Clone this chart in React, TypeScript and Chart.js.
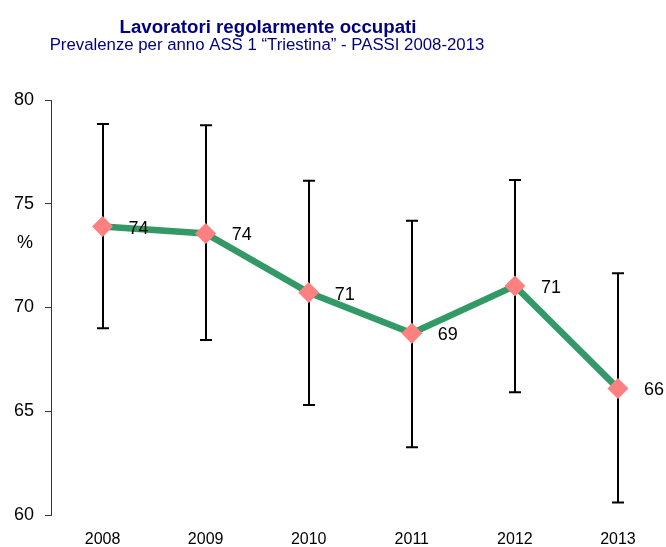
import React, { useEffect, useRef } from "react";
import { Chart, registerables } from "chart.js";

Chart.register(...registerables);

const years = ["2008", "2009", "2010", "2011", "2012", "2013"];
const prevalence = [73.9, 73.57, 70.72, 68.76, 71.04, 66.1];
const lowerCI = [69.0, 68.43, 65.3, 63.26, 65.91, 60.6];
const upperCI = [78.84, 78.78, 76.11, 74.18, 76.14, 71.65];
const yMin = 60;
const yMax = 80;
const yStep = 5;
const titleText = "Lavoratori regolarmente occupati";
const subtitleText = "Prevalenze per anno ASS 1 \u201CTriestina\u201D - PASSI 2008-2013";
const yAxisLabel = "%";

const FONT = '"Liberation Sans", Arial, sans-serif';

export default function App() {
  const ref = useRef<HTMLCanvasElement | null>(null);

  useEffect(() => {
    if (!ref.current) return;

    const errorBars = {
      id: "errorBars",
      beforeDatasetsDraw(chart: any) {
        const { ctx, scales } = chart;
        const x = scales.x;
        const y = scales.y;
        ctx.save();
        ctx.strokeStyle = "#000000";
        ctx.lineWidth = 2;
        for (let i = 0; i < years.length; i++) {
          const px = Math.round(x.getPixelForValue(i));
          const top = y.getPixelForValue(upperCI[i]);
          const bot = y.getPixelForValue(lowerCI[i]);
          ctx.beginPath();
          ctx.moveTo(px, top);
          ctx.lineTo(px, bot);
          ctx.moveTo(px - 6, top);
          ctx.lineTo(px + 6, top);
          ctx.moveTo(px - 6, bot);
          ctx.lineTo(px + 6, bot);
          ctx.stroke();
        }
        ctx.restore();
      },
    };

    const valueLabels = {
      id: "valueLabels",
      afterDatasetsDraw(chart: any) {
        const { ctx } = chart;
        const meta = chart.getDatasetMeta(0);
        ctx.save();
        ctx.fillStyle = "#000000";
        ctx.font = `18px ${FONT}`;
        ctx.textAlign = "left";
        ctx.textBaseline = "middle";
        meta.data.forEach((el: any, i: number) => {
          ctx.fillText(String(Math.round(prevalence[i])), el.x + 26, el.y + 2);
        });
        ctx.restore();
      },
    };

    const titles = {
      id: "titles",
      afterDraw(chart: any) {
        const { ctx } = chart;
        ctx.save();
        ctx.fillStyle = "#000080";
        ctx.textAlign = "center";
        ctx.textBaseline = "alphabetic";
        ctx.font = `bold 18.7px ${FONT}`;
        ctx.fillText(titleText, 268, 33);
        ctx.font = `16.8px ${FONT}`;
        ctx.fillText(subtitleText, 267, 50);
        ctx.fillStyle = "#000000";
        ctx.font = `18px ${FONT}`;
        ctx.textBaseline = "middle";
        ctx.fillText(yAxisLabel, 25, 243);
        ctx.restore();
      },
    };

    const chart = new Chart(ref.current, {
      type: "line",
      data: {
        labels: years,
        datasets: [
          {
            data: prevalence,
            borderColor: "#339966",
            borderWidth: 6.5,
            backgroundColor: "#FF8080",
            pointBackgroundColor: "#FF8080",
            pointBorderWidth: 0,
            pointBorderColor: "#FF8080",
            pointStyle: "rectRot",
            pointRadius: 10.5,
            fill: false,
            tension: 0,
          },
        ],
      },
      options: {
        animation: false,
        responsive: false,
        devicePixelRatio: 1,
        layout: { padding: { top: 100, right: 9, bottom: 0, left: 0 } },
        plugins: {
          legend: { display: false },
          tooltip: { enabled: false },
          title: { display: false },
        },
        scales: {
          x: {
            type: "category",
            offset: true,
            grid: { display: false, drawTicks: false, offset: true },
            border: { display: false },
            ticks: {
              color: "#000000",
              font: { size: 16, family: FONT },
              padding: 15,
              maxRotation: 0,
              autoSkip: false,
            },
            afterFit(scale: any) {
              scale.height = 32;
            },
          },
          y: {
            min: yMin,
            max: yMax,
            grid: {
              display: true,
              drawOnChartArea: false,
              drawTicks: true,
              tickLength: 6,
              color: "#333333",
              lineWidth: 1,
            },
            border: { display: true, color: "#333333", width: 1 },
            ticks: {
              stepSize: yStep,
              color: "#000000",
              font: { size: 18, family: FONT },
              padding: 11,
            },
            afterFit(scale: any) {
              scale.width = 51;
            },
          },
        },
      },
      plugins: [errorBars, valueLabels, titles],
    } as any);

    return () => chart.destroy();
  }, []);

  return (
    <div
      style={{
        position: "absolute",
        left: 0,
        top: 0,
        width: 666,
        height: 547,
        overflow: "hidden",
        background: "#ffffff",
      }}
    >
      <canvas ref={ref} width={680} height={547} style={{ display: "block" }} />
    </div>
  );
}
